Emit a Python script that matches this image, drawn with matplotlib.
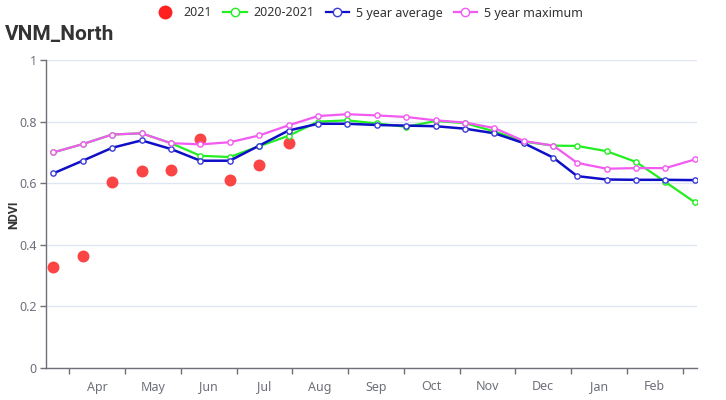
import matplotlib
matplotlib.use("Agg")
import matplotlib.pyplot as plt
import matplotlib.dates as mdates
from matplotlib.lines import Line2D
import numpy as np
import datetime as dt

plt.rcParams['font.family'] = ['Noto Sans', 'DejaVu Sans']

# ---- data ----
dates = ['2021-03-22', '2021-04-07', '2021-04-23', '2021-05-09', '2021-05-25',
         '2021-06-10', '2021-06-26', '2021-07-12', '2021-07-28', '2021-08-13',
         '2021-08-29', '2021-09-14', '2021-09-30', '2021-10-16', '2021-11-01',
         '2021-11-17', '2021-12-03', '2021-12-19', '2022-01-01', '2022-01-17',
         '2022-02-02', '2022-02-18', '2022-03-06']

ndvi_2021 = [0.329, 0.363, 0.604, 0.640, 0.643, 0.742, 0.610, 0.659, 0.731]

ndvi_2020_2021 = [0.700, 0.727, 0.758, 0.762, 0.730, 0.689, 0.685, 0.720, 0.754,
                  0.800, 0.804, 0.794, 0.783, 0.802, 0.795, 0.768, 0.735, 0.722,
                  0.721, 0.704, 0.669, 0.604, 0.538]

avg_5yr = [0.632, 0.673, 0.715, 0.739, 0.711, 0.673, 0.673, 0.722, 0.771,
           0.793, 0.793, 0.789, 0.787, 0.785, 0.777, 0.762, 0.730, 0.683,
           0.623, 0.612, 0.611, 0.611, 0.610]

max_5yr = [0.700, 0.727, 0.758, 0.762, 0.730, 0.726, 0.733, 0.755, 0.788,
           0.818, 0.824, 0.820, 0.815, 0.804, 0.797, 0.779, 0.737, 0.722,
           0.666, 0.647, 0.649, 0.649, 0.677]

month_labels = ['Apr', 'May', 'Jun', 'Jul', 'Aug', 'Sep', 'Oct', 'Nov', 'Dec', 'Jan', 'Feb']
y_ticks = [0, 0.2, 0.4, 0.6, 0.8, 1]
y_tick_labels = ['0', '0.2', '0.4', '0.6', '0.8', '1']

title = 'VNM_North'
series_names = ['2021', '2020-2021', '5 year average', '5 year maximum']

# ---- figure ----
fig = plt.figure(figsize=(7.26, 4.0), dpi=100)
ax = fig.add_axes([46 / 726, 32 / 400, 651 / 726, 308 / 400])

x = mdates.date2num([dt.datetime.strptime(d, '%Y-%m-%d') for d in dates])

axis_col = '#6E7079'
grid_col = '#E0E6F1'
red = '#fb4545'
green = '#22ee22'
blue = '#0f0fc8'
magenta = '#f25af2'

ax.plot(x[:len(ndvi_2021)], ndvi_2021, 'o', color=red, ms=8.6, mew=0, zorder=3)
ax.plot(x, ndvi_2020_2021, '-o', color=green, lw=1.6, ms=3.8, mfc='white', mec=green, mew=1.0, zorder=4)
ax.plot(x, avg_5yr, '-o', color=blue, lw=1.8, ms=3.8, mfc='white', mec='#3a3ad8', mew=1.0, zorder=5)
ax.plot(x, max_5yr, '-o', color=magenta, lw=1.6, ms=3.8, mfc='white', mec=magenta, mew=1.0, zorder=6)

left = mdates.date2num(dt.datetime(2021, 3, 18))
right = left + 354.2
ax.set_xlim(left, right)
ax.set_ylim(0, 1)

# uniform month ticks (category-style axis)
first_tick = left + 12.7
step = 30.33
major = [first_tick + k * step for k in range(12)]
minor = [first_tick + (k + 0.5) * step for k in range(11)]
ax.set_xticks(major)
ax.set_xticklabels([''] * len(major))
ax.set_xticks(minor, minor=True)
ax.set_xticklabels(month_labels, minor=True)
ax.tick_params(axis='x', which='major', length=4.5, width=1, color=axis_col, direction='out')
ax.tick_params(axis='x', which='minor', length=0, pad=9, labelsize=9, labelcolor=axis_col)

ax.set_yticks(y_ticks)
ax.set_yticklabels(y_tick_labels)
ax.tick_params(axis='y', length=4.5, width=1, color=axis_col, labelsize=9, labelcolor=axis_col, pad=2)

ax.grid(axis='y', color=grid_col, lw=1)
ax.set_axisbelow(True)
for s in ['top', 'right']:
    ax.spines[s].set_visible(False)
for s in ['left', 'bottom']:
    ax.spines[s].set_color(axis_col)
    ax.spines[s].set_linewidth(1)

fig.text(14 / 726, 1 - 215 / 400, 'NDVI', fontsize=9, fontweight='bold', color='#333333',
         rotation=90, ha='center', va='center', family=['Roboto', 'DejaVu Sans'])

fig.text(5 / 726, 1 - 34 / 400, title, fontsize=15, fontweight='bold', color='#333333',
         ha='left', va='center', family=['Roboto', 'DejaVu Sans'])

handles = [
    Line2D([], [], ls='none', marker='o', color='#ff2020', ms=10, mew=0),
    Line2D([], [], ls='-', marker='o', color=green, lw=1.6, ms=6, mfc='white', mec=green, mew=1.0),
    Line2D([], [], ls='-', marker='o', color=blue, lw=1.6, ms=6, mfc='white', mec='#3a3ad8', mew=1.0),
    Line2D([], [], ls='-', marker='o', color=magenta, lw=1.6, ms=6, mfc='white', mec=magenta, mew=1.0),
]
leg = fig.legend(handles, series_names, loc='center', bbox_to_anchor=(368 / 726, 1 - 13 / 400),
                 ncol=4, frameon=False, fontsize=9, handlelength=1.9, handletextpad=0.5,
                 columnspacing=0.9, labelcolor='#333333')

fig.savefig('out.png', dpi=100)
